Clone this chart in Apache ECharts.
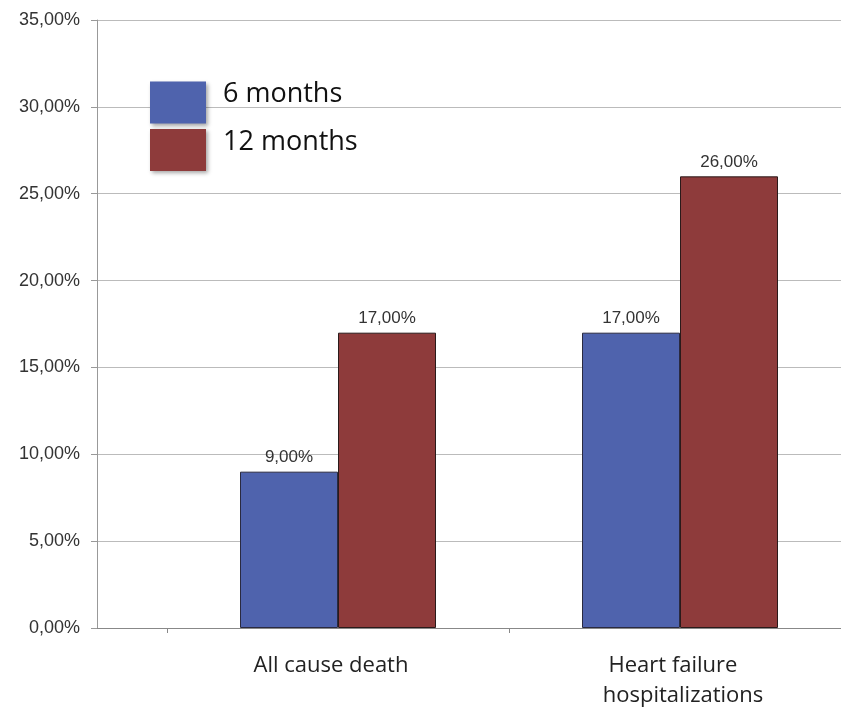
<!DOCTYPE html>
<html>
<head>
<meta charset="utf-8">
<script src="https://cdn.jsdelivr.net/npm/echarts@6/dist/echarts.min.js"></script>
<style>html,body{margin:0;padding:0;background:#fff}#c{width:841px;height:708px}</style>
</head>
<body>
<div id="c"></div>
<script>
const categories = ['All cause death', 'Heart failure\nhospitalizations'];
const seriesNames = ['6 months', '12 months'];
const sixMonths = [9, 17];
const twelveMonths = [17, 26];
const yMin = 0, yMax = 35, yStep = 5;

const fmt = v => v.toFixed(2).replace('.', ',') + '%';
const catFont = {fontSize: 22, color: '#222', fontFamily: 'Open Sans', lineHeight: 30};
const chart = echarts.init(document.getElementById('c'));
chart.setOption({
  animation: false,
  backgroundColor: '#fff',
  grid: [
    {left: 97, right: 0, top: 20, bottom: 80, outerBoundsMode: 'none', containLabel: false},
    {left: 167, right: -10, top: 20, bottom: 80, outerBoundsMode: 'none', containLabel: false}
  ],
  legend: {
    orient: 'vertical', left: 150, top: 81, padding: 0, itemWidth: 56, itemHeight: 42, itemGap: 5,
    icon: 'rect',
    formatter: n => '{t|' + n + '}',
    textStyle: {
      fontSize: 27, color: '#111', fontFamily: 'Open Sans',
      rich: {t: {fontSize: 27, color: '#111', fontFamily: 'Open Sans', padding: [0, 0, 16, 12]}}
    },
    itemStyle: {borderWidth: 0, shadowBlur: 4, shadowColor: 'rgba(0,0,0,0.35)', shadowOffsetX: 2, shadowOffsetY: 2},
    data: seriesNames
  },
  xAxis: [
    {type: 'category', gridIndex: 0, data: [''], axisLine: {lineStyle: {color: '#888'}}, axisTick: {show: false}, axisLabel: {show: false}},
    {type: 'category', gridIndex: 1, data: categories,
      axisLine: {show: false},
      axisTick: {show: true, length: 5, lineStyle: {color: '#888'}},
      axisLabel: {
        fontSize: 22, color: '#222', fontFamily: 'Open Sans', margin: 23, lineHeight: 30,
        formatter: v => v.split('\n').map((s, i) => '{l' + i + '|' + s + '}').join('\n'),
        rich: {
          l0: Object.assign({padding: [0, 14, 0, 0]}, catFont),
          l1: Object.assign({padding: [0, 0, 0, 6]}, catFont)
        }
      }}
  ],
  yAxis: [
    {type: 'value', gridIndex: 0, min: yMin, max: yMax, interval: yStep,
      axisLine: {show: true, lineStyle: {color: '#999'}},
      axisTick: {show: true, length: 6, lineStyle: {color: '#999'}},
      splitLine: {lineStyle: {color: '#bbbbbb'}},
      axisLabel: {formatter: fmt, fontSize: 18, color: '#333', fontFamily: 'Liberation Sans', margin: 17}},
    {type: 'value', gridIndex: 1, min: yMin, max: yMax, interval: yStep, show: false}
  ],
  series: [
    {name: seriesNames[0], type: 'bar', xAxisIndex: 1, yAxisIndex: 1, data: sixMonths, barWidth: 98, barGap: '0%',
      itemStyle: {color: '#4f63ad', borderColor: '#2a2a40', borderWidth: 1},
      label: {show: true, position: 'top', formatter: p => fmt(p.value), fontSize: 17, color: '#333', fontFamily: 'Liberation Sans', distance: 6}},
    {name: seriesNames[1], type: 'bar', xAxisIndex: 1, yAxisIndex: 1, data: twelveMonths, barWidth: 98, barGap: '0%',
      itemStyle: {color: '#8e3b3b', borderColor: '#2a1a1a', borderWidth: 1},
      label: {show: true, position: 'top', formatter: p => fmt(p.value), fontSize: 17, color: '#333', fontFamily: 'Liberation Sans', distance: 6}}
  ]
});
</script>
</body>
</html>
